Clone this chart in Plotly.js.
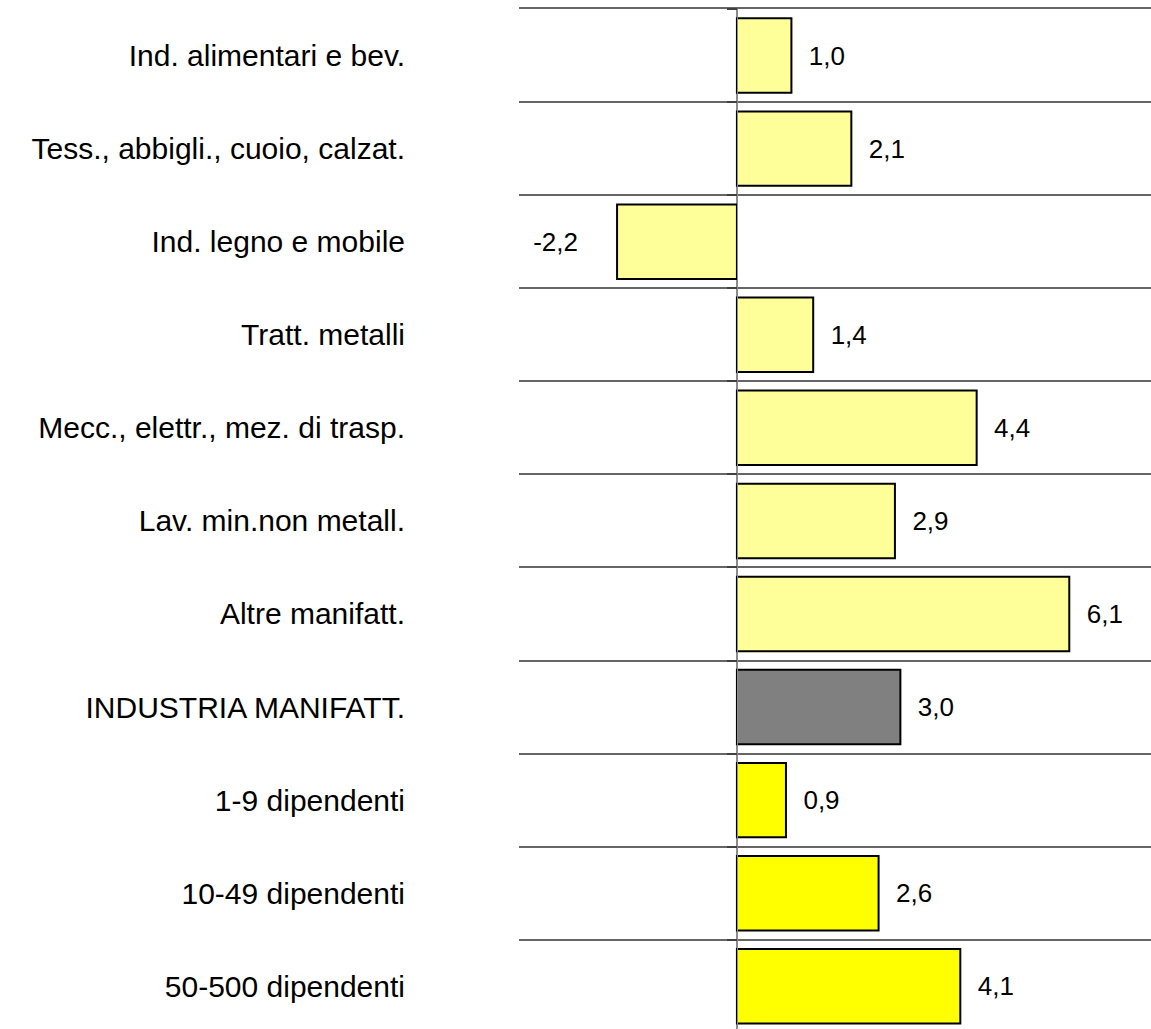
<!DOCTYPE html>
<html>
<head>
<meta charset="utf-8">
<script src="https://cdn.plot.ly/plotly-3.0.1.min.js"></script>
<style>html,body{margin:0;padding:0;background:#fff;}#chart{width:1151px;height:1029px;}</style>
</head>
<body>
<div id="chart"></div>
<script>
const categories = [
  "Ind. alimentari e bev.",
  "Tess., abbigli., cuoio, calzat.",
  "Ind. legno e mobile",
  "Tratt. metalli",
  "Mecc., elettr., mez. di trasp.",
  "Lav. min.non metall.",
  "Altre manifatt.",
  "INDUSTRIA MANIFATT.",
  "1-9 dipendenti",
  "10-49 dipendenti",
  "50-500 dipendenti"
];
const values = [1.0, 2.1, -2.2, 1.4, 4.4, 2.9, 6.1, 3.0, 0.9, 2.6, 4.1];
const groups = ["sector","sector","sector","sector","sector","sector","sector","total","size","size","size"];
const groupColors = {sector: "#FFFF99", total: "#808080", size: "#FFFF00"};

const colors = groups.map(g => groupColors[g]);
const NB = "\u00a0";
const templates = values.map(v => v >= 0 ? NB + NB + "%{x:.1f}" : "%{x:.1f}" + NB.repeat(5));

const XMIN = -4, XMAX = 7.6;
const YTOP = -0.5, YBOT = 10.459;
const boundaries = categories.map((c, i) => i - 0.5).concat([categories.length - 0.5]);

const trace = {
  type: "bar",
  orientation: "h",
  x: values,
  y: categories,
  marker: {color: colors, line: {color: "#000000", width: 2}},
  texttemplate: templates,
  textposition: "outside",
  textfont: {family: "Liberation Sans, Arial, sans-serif", size: 26, color: "#000"},
  cliponaxis: false,
  constraintext: "none",
  hoverinfo: "skip"
};

// empty helper trace so the axis through zero (with its small ticks) is drawn
const axisTrace = {
  type: "scatter",
  mode: "markers",
  x: [],
  y: [],
  xaxis: "x",
  yaxis: "y2",
  showlegend: false,
  hoverinfo: "skip"
};

const layout = {
  width: 1151,
  height: 1029,
  margin: {l: 519, r: 0, t: 9, b: 0},
  paper_bgcolor: "#ffffff",
  plot_bgcolor: "#ffffff",
  separators: ",.",
  showlegend: false,
  bargap: 0.2,
  font: {family: "Liberation Sans, Arial, sans-serif", size: 26, color: "#000"},
  xaxis: {
    range: [XMIN, XMAX],
    side: "top",
    showgrid: false,
    showticklabels: false,
    ticks: "",
    zeroline: true,
    zerolinecolor: "#8c8c8c",
    zerolinewidth: 1,
    showline: true,
    linecolor: "#666666",
    linewidth: 2,
    mirror: false,
    fixedrange: true
  },
  yaxis: {
    type: "category",
    range: [YBOT, YTOP],
    tickson: "boundaries",
    showgrid: true,
    gridcolor: "#666666",
    gridwidth: 2,
    ticks: "",
    showline: false,
    zeroline: false,
    ticklabelstandoff: 113,
    tickfont: {family: "Liberation Sans, Arial, sans-serif", size: 30, color: "#000"},
    automargin: false,
    fixedrange: true
  },
  yaxis2: {
    type: "linear",
    overlaying: "y",
    anchor: "free",
    position: (0 - XMIN) / (XMAX - XMIN),
    side: "left",
    range: [YBOT, YTOP],
    tickmode: "array",
    tickvals: boundaries,
    ticks: "outside",
    ticklen: 10,
    tickwidth: 2,
    tickcolor: "#404040",
    showticklabels: false,
    showgrid: false,
    zeroline: false,
    showline: true,
    linecolor: "#8c8c8c",
    linewidth: 1,
    automargin: false,
    fixedrange: true
  }
};

Plotly.newPlot("chart", [trace, axisTrace], layout, {displayModeBar: false, staticPlot: true});
</script>
</body>
</html>
